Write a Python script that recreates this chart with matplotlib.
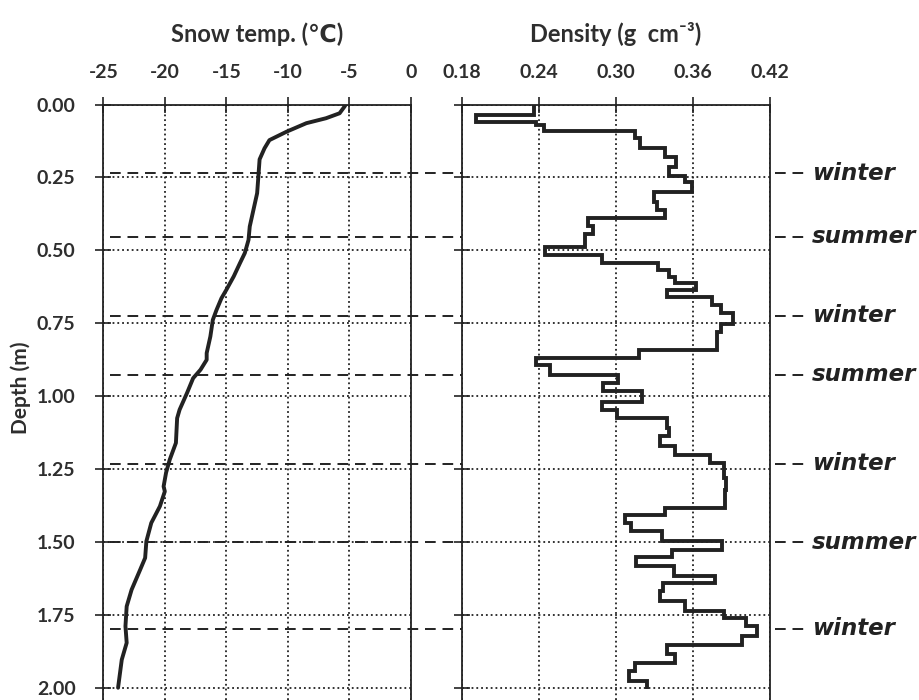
import matplotlib
matplotlib.use('Agg')
import matplotlib.pyplot as plt
import numpy as np

plt.rcParams['font.family'] = ['Lato', 'DejaVu Sans']

# snow temperature profile
temp_depth = [0.0, 0.007, 0.030, 0.047, 0.064, 0.093, 0.122, 0.150, 0.188, 0.247, 0.304, 0.361, 0.418,
              0.464, 0.509, 0.544, 0.589, 0.635, 0.664, 0.704, 0.738, 0.795, 0.852, 0.875, 0.909, 0.938,
              0.989, 1.046, 1.075, 1.160, 1.217, 1.262, 1.309, 1.326, 1.377, 1.434, 1.497, 1.554, 1.594,
              1.663, 1.720, 1.788, 1.845, 1.903, 1.999]
temp = [-5.3, -5.4, -5.8, -6.9, -8.5, -10.1, -11.5, -11.9, -12.3, -12.4, -12.5, -12.8, -13.1,
        -13.2, -13.5, -13.9, -14.4, -15.0, -15.4, -15.8, -16.1, -16.3, -16.6, -16.6, -17.1, -17.7,
        -18.2, -18.8, -19.0, -19.1, -19.6, -19.9, -20.1, -20.0, -20.4, -21.1, -21.5, -21.6, -22.0,
        -22.7, -23.1, -23.2, -23.1, -23.5, -23.8]

# density layers (edges in m, value per layer)
dens_edges = [0, 0.036, 0.059, 0.070, 0.090, 0.116, 0.150, 0.179, 0.213, 0.245, 0.267, 0.299, 0.333,
              0.361, 0.390, 0.418, 0.445, 0.487, 0.515, 0.544, 0.567, 0.590, 0.612, 0.635, 0.660,
              0.687, 0.715, 0.752, 0.778, 0.840, 0.869, 0.892, 0.926, 0.955, 0.983, 1.018, 1.046,
              1.075, 1.109, 1.137, 1.172, 1.200, 1.229, 1.280, 1.320, 1.383, 1.406, 1.434, 1.463,
              1.497, 1.526, 1.552, 1.583, 1.617, 1.640, 1.668, 1.703, 1.735, 1.760, 1.788, 1.823,
              1.851, 1.885, 1.914, 1.943, 1.976, 2.005]
density = [0.236, 0.191, 0.238, 0.244, 0.315, 0.319, 0.338, 0.347, 0.341, 0.354,
           0.359, 0.330, 0.332, 0.338, 0.278, 0.282, 0.276, 0.245, 0.289, 0.333,
           0.341, 0.346, 0.362, 0.340, 0.375, 0.382, 0.391, 0.382, 0.379, 0.318,
           0.238, 0.249, 0.302, 0.290, 0.320, 0.289, 0.301, 0.340, 0.341, 0.334,
           0.346, 0.373, 0.384, 0.386, 0.385, 0.338, 0.307, 0.312, 0.336, 0.383,
           0.344, 0.316, 0.345, 0.377, 0.337, 0.334, 0.354, 0.384, 0.401, 0.410,
           0.398, 0.340, 0.346, 0.315, 0.310, 0.324]

# seasonal horizons
season_depth = [0.236, 0.453, 0.724, 0.926, 1.232, 1.501, 1.797]
season_label = ['winter', 'summer', 'winter', 'summer', 'winter', 'summer', 'winter']

temp_ticks = [-25, -20, -15, -10, -5, 0]
dens_ticks = [0.18, 0.24, 0.30, 0.36, 0.42]
depth_ticks = [0.0, 0.25, 0.5, 0.75, 1.0, 1.25, 1.5, 1.75, 2.0]

ink = '#222222'
txt = '#2e2e2e'
fig = plt.figure(figsize=(9.19, 7.0), dpi=100)
ax1 = fig.add_axes([0.1124, 0.0, 0.3348, 0.8507])
ax2 = fig.add_axes([0.5024, 0.0, 0.3355, 0.8507])

for ax in (ax1, ax2):
	ax.set_ylim(2.041, 0)
	ax.set_yticks(depth_ticks)
	ax.xaxis.tick_top()
	ax.xaxis.set_label_position('top')
	ax.spines['bottom'].set_visible(False)
	for s in ('top', 'left', 'right'):
		ax.spines[s].set_color(ink)
		ax.spines[s].set_linewidth(1.3)
	ax.tick_params(axis='both', direction='inout', length=12, width=1.2, color=ink,
				   labelsize=14, labelcolor=txt)
	ax.tick_params(axis='x', pad=11)
	ax.tick_params(axis='y', pad=14)
	ax.grid(True, linestyle=':', color=ink, linewidth=1.3)

ax1.plot(temp, temp_depth, color=ink, linewidth=2.8, solid_capstyle='round')
ax1.set_xlim(-25, 0)
ax1.set_xticks(temp_ticks)
ax1.set_xticklabels([str(t) for t in temp_ticks], fontweight='bold')
ax1.set_yticklabels(['%.2f' % d for d in depth_ticks], fontweight='bold')
ax1.set_xlabel('Snow temp. (\u2103)', fontsize=17, fontweight='bold', color=txt, labelpad=16)
ax1.set_ylabel('Depth (m)', fontsize=15, fontweight='bold', color=txt)
ax1.yaxis.set_label_coords(-0.236, 0.525)

ax2.stairs(density, dens_edges, orientation='horizontal', baseline=None, color=ink, linewidth=2.8)
ax2.set_xlim(0.18, 0.42)
ax2.set_xticks(dens_ticks)
ax2.set_xticklabels(['%.2f' % t for t in dens_ticks], fontweight='bold')
ax2.set_yticklabels([])
ax2.set_xlabel('Density (g  cm\u207b\u00b3)', fontsize=17, fontweight='bold', color=txt, labelpad=16)

# dashed season lines run across both panels to the labels
for d, lab in zip(season_depth, season_label):
	ax1.axhline(d, xmin=0.022, xmax=2.287, clip_on=False, color=ink, linewidth=1.4,
				linestyle=(0, (5.5, 3.5)), zorder=5)
	ax2.text(1.137, d, lab, transform=ax2.get_yaxis_transform(), fontsize=16.5, fontstyle='italic',
			 fontweight='bold', color=ink, va='center', ha='left', family='DejaVu Sans')

plt.savefig('out.png', dpi=100)
